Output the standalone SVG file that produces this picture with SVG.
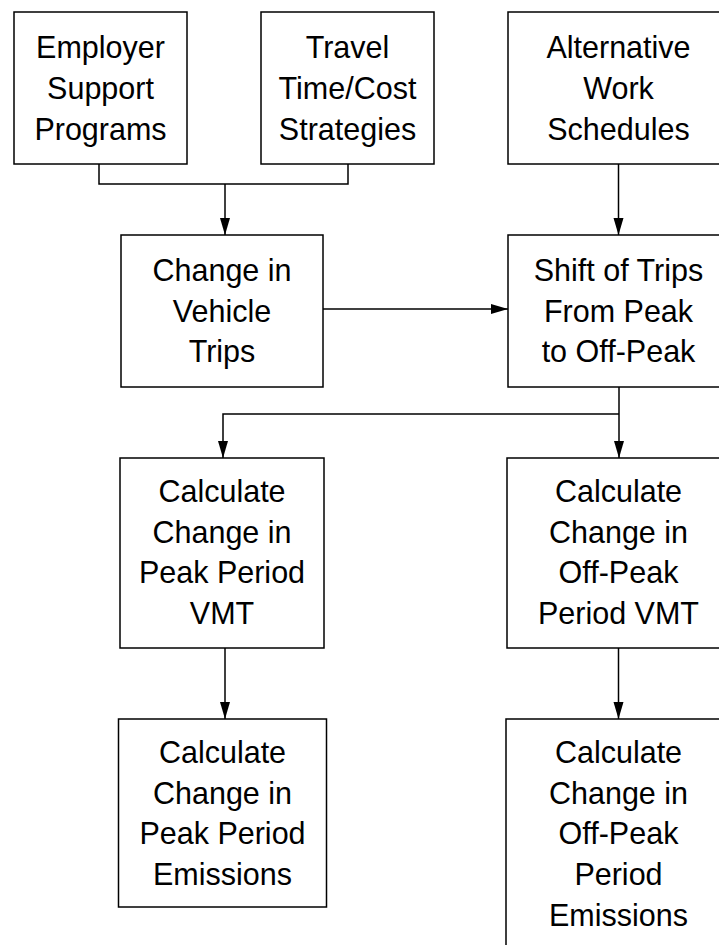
<svg xmlns="http://www.w3.org/2000/svg" width="719" height="945" viewBox="0 0 719 945">
<style>
  .box { fill: #fff; stroke: #000; stroke-width: 1.5; }
  .lbl { font-family: "Liberation Sans", Arial, sans-serif; font-size: 30.5px; fill: #000; text-anchor: middle; }
  .con { fill: none; stroke: #000; stroke-width: 1.5; }
</style>
<defs>
  <marker id="arr" markerUnits="userSpaceOnUse" markerWidth="18" markerHeight="12" refX="17" refY="5.5" orient="auto">
    <path d="M0,0.5 L17,5.5 L0,10.5 z" fill="#000"/>
  </marker>
</defs>
<rect width="719" height="945" fill="#fff"/>

<g id="connectors">
  <path class="con" d="M99,164 V184 H348 V164"/>
  <path class="con" d="M225,184 V235" marker-end="url(#arr)"/>
  <path class="con" d="M618.5,164 V235" marker-end="url(#arr)"/>
  <path class="con" d="M323,309 H508" marker-end="url(#arr)"/>
  <path class="con" d="M619,387 V458" marker-end="url(#arr)"/>
  <path class="con" d="M619,414 H223 V458" marker-end="url(#arr)"/>
  <path class="con" d="M225,648 V719" marker-end="url(#arr)"/>
  <path class="con" d="M618.5,648 V719" marker-end="url(#arr)"/>
</g>

<g id="employer">
  <rect class="box" x="14" y="12" width="173" height="152"/>
  <text class="lbl"><tspan x="100.5" y="58">Employer</tspan><tspan x="100.5" y="99">Support</tspan><tspan x="100.5" y="139.5">Programs</tspan></text>
</g>
<g id="travel">
  <rect class="box" x="261" y="12" width="173" height="152"/>
  <text class="lbl"><tspan x="347.5" y="58">Travel</tspan><tspan x="347.5" y="99">Time/Cost</tspan><tspan x="347.5" y="139.5">Strategies</tspan></text>
</g>
<g id="alternative">
  <rect class="box" x="508" y="12" width="221" height="152"/>
  <text class="lbl"><tspan x="618.5" y="58">Alternative</tspan><tspan x="618.5" y="99">Work</tspan><tspan x="618.5" y="139.5">Schedules</tspan></text>
</g>
<g id="change-trips">
  <rect class="box" x="121" y="235" width="202" height="152"/>
  <text class="lbl"><tspan x="222" y="281">Change in</tspan><tspan x="222" y="321.7">Vehicle</tspan><tspan x="222" y="362.3">Trips</tspan></text>
</g>
<g id="shift">
  <rect class="box" x="508" y="235" width="221" height="152"/>
  <text class="lbl"><tspan x="618.5" y="281">Shift of Trips</tspan><tspan x="618.5" y="321.7">From Peak</tspan><tspan x="618.5" y="362.3">to Off-Peak</tspan></text>
</g>
<g id="peak-vmt">
  <rect class="box" x="120" y="458" width="204" height="190"/>
  <text class="lbl"><tspan x="222" y="502">Calculate</tspan><tspan x="222" y="542.7">Change in</tspan><tspan x="222" y="583.4">Peak Period</tspan><tspan x="222" y="624">VMT</tspan></text>
</g>
<g id="offpeak-vmt">
  <rect class="box" x="507" y="458" width="223" height="190"/>
  <text class="lbl"><tspan x="618.5" y="502">Calculate</tspan><tspan x="618.5" y="542.7">Change in</tspan><tspan x="618.5" y="583.4">Off-Peak</tspan><tspan x="618.5" y="624">Period VMT</tspan></text>
</g>
<g id="peak-emissions">
  <rect class="box" x="118.5" y="719" width="208" height="188"/>
  <text class="lbl"><tspan x="222.5" y="763">Calculate</tspan><tspan x="222.5" y="803.6">Change in</tspan><tspan x="222.5" y="844.3">Peak Period</tspan><tspan x="222.5" y="885">Emissions</tspan></text>
</g>
<g id="offpeak-emissions">
  <rect class="box" x="506" y="719" width="225" height="240"/>
  <text class="lbl"><tspan x="618.5" y="763">Calculate</tspan><tspan x="618.5" y="803.6">Change in</tspan><tspan x="618.5" y="844.3">Off-Peak</tspan><tspan x="618.5" y="885">Period</tspan><tspan x="618.5" y="925.7">Emissions</tspan></text>
</g>
</svg>
